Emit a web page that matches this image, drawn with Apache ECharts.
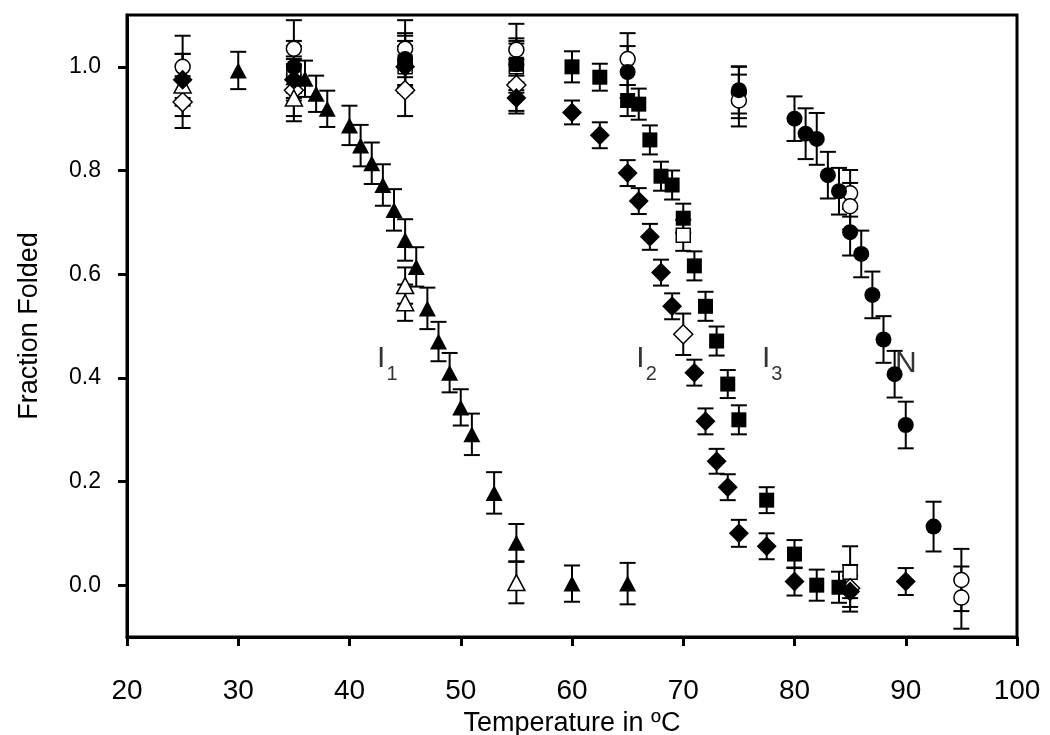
<!DOCTYPE html>
<html><head><meta charset="utf-8">
<script src="https://cdn.jsdelivr.net/npm/echarts@6/dist/echarts.min.js"></script>
<style>html,body{margin:0;padding:0;background:#fff}#c{width:1050px;height:735px}</style>
</head><body><div id="c"></div>
<script>
// ---- tick labels ----
const xTicks = [20, 30, 40, 50, 60, 70, 80, 90, 100];
const yTicks = [0.0, 0.2, 0.4, 0.6, 0.8, 1.0];
const xTitle = 'Temperature in ºC';
const yTitle = 'Fraction Folded';

// ---- data: [temperature, fraction folded, error] ----
const filledTriangles = [[30,0.993,0.036],[35,0.98,0.04],[36,0.977,0.035],[37,0.948,0.035],[38,0.919,0.035],[40,0.887,0.038],[41,0.848,0.04],[42,0.814,0.04],[43,0.772,0.04],[44,0.724,0.04],[45,0.666,0.04],[46,0.614,0.038],[47,0.534,0.04],[48,0.47,0.038],[49,0.41,0.038],[50,0.343,0.035],[51,0.291,0.04],[53,0.178,0.04],[55,0.082,0.036],[60,0.003,0.035],[65,0.003,0.04]];
const openTriangles = [[25,0.965,0.06],[35,0.94,0.045],[45,0.578,0.035],[45,0.545,0.035],[55,0.005,0.04]];
const filledDiamonds = [[25,0.975,0.05],[35,0.975,0.04],[45,1.0,0.04],[55,0.94,0.03],[60,0.912,0.023],[62.5,0.868,0.025],[65,0.795,0.025],[66,0.741,0.025],[67,0.672,0.025],[68,0.603,0.025],[69,0.538,0.025],[71,0.41,0.025],[72,0.316,0.025],[73,0.239,0.024],[74,0.189,0.025],[75,0.1,0.026],[77.5,0.075,0.025],[80,0.007,0.027],[85,-0.012,0.03],[90,0.007,0.026]];
const openDiamonds = [[25,0.932,0.05],[35,0.955,0.05],[45,0.955,0.05],[55,0.965,0.05],[70,0.484,0.04],[85,-0.006,0.045]];
const filledSquares = [[45,1.01,0.05],[55,1.005,0.04],[60,1.0,0.03],[62.5,0.98,0.026],[65,0.935,0.03],[66,0.928,0.03],[67,0.859,0.028],[68,0.789,0.028],[69,0.772,0.028],[70,0.708,0.028],[71,0.616,0.028],[72,0.538,0.028],[73,0.471,0.028],[74,0.388,0.027],[75,0.319,0.028],[77.5,0.164,0.025],[80,0.06,0.027],[82,0.0,0.03],[84,-0.004,0.03]];
const openSquares = [[35,0.99,0.05],[45,1.0,0.05],[55,1.0,0.05],[70,0.675,0.03],[85,0.025,0.05]];
const filledCircles = [[35,1.0,0.05],[45,1.015,0.05],[55,1.005,0.05],[65,0.99,0.05],[75,0.955,0.045],[80,0.9,0.043],[81,0.871,0.049],[82,0.861,0.05],[83,0.791,0.045],[84,0.76,0.045],[85,0.681,0.045],[86,0.639,0.045],[87,0.56,0.045],[88,0.474,0.045],[89,0.407,0.045],[90,0.309,0.045],[92.5,0.113,0.048]];
const openCirclesA = [[25,1.0,0.06],[35,1.035,0.055],[45,1.035,0.055],[55,1.033,0.05],[65,1.015,0.05],[75,0.951,0.05],[85,0.756,0.045],[95,0.01,0.06]];
const openCirclesB = [[75,0.935,0.05],[85,0.731,0.045],[95,-0.024,0.06]];

// ---- annotations ----
const labelT = [43.4, 66.7, 78.0, 90.0];
const labelF = [0.44, 0.44, 0.44, 0.432];
const labelMain = ['I', 'I', 'I', 'N'];
const labelSub = ['1', '2', '3', ''];

const chart = echarts.init(document.getElementById('c'), null, {renderer: 'canvas'});

function errSeries(data) {
  return {
    type: 'custom', silent: true, z: 2, clip: true,
    data: data,
    encode: {x: 0, y: 1},
    renderItem: function (params, api) {
      const x = api.value(0), y = api.value(1), e = api.value(2);
      const t = api.coord([x, y + e]), b = api.coord([x, y - e]);
      const h = 8;
      const st = {stroke: '#000', lineWidth: 2};
      return {type: 'group', children: [
        {type: 'line', shape: {x1: t[0], y1: t[1], x2: b[0], y2: b[1]}, style: st},
        {type: 'line', shape: {x1: t[0] - h, y1: t[1], x2: t[0] + h, y2: t[1]}, style: st},
        {type: 'line', shape: {x1: b[0] - h, y1: b[1], x2: b[0] + h, y2: b[1]}, style: st}
      ]};
    }
  };
}
function markSeries(data, symbol, size, filled) {
  return {
    type: 'scatter', z: 4, silent: true,
    data: data.map(d => [d[0], d[1]]),
    symbol: symbol, symbolSize: size,
    itemStyle: {color: filled ? '#000' : '#fff', borderColor: '#000', borderWidth: filled ? 0 : 1.5, opacity: 1}
  };
}

const groups = [
  [openCirclesA, 'circle', 15, false],
  [openCirclesB, 'circle', 15, false],
  [openSquares, 'rect', 14, false],
  [openDiamonds, 'diamond', [19, 19], false],
  [openTriangles, 'triangle', [17, 16], false],
  [filledTriangles, 'triangle', [17, 16], true],
  [filledDiamonds, 'diamond', [20, 20], true],
  [filledSquares, 'rect', 15, true],
  [filledCircles, 'circle', 16, true]
];
const series = [];
groups.forEach(g => series.push(errSeries(g[0])));
groups.forEach(g => series.push(markSeries(g[0], g[1], g[2], g[3])));

series.push({
  type: 'scatter', silent: true, z: 10, zlevel: 1,
  symbolSize: 0,
  data: labelT.map((t, i) => ({value: [t, labelF[i]], main: labelMain[i], sub: labelSub[i]})),
  label: {
    show: true, position: 'inside',
    formatter: p => '{a|' + p.data.main + '}' + (p.data.sub ? '{b|' + p.data.sub + '}' : ''),
    rich: {
      a: {fontFamily: 'Liberation Sans, Arial', fontSize: 30, color: '#000', lineHeight: 34, verticalAlign: 'bottom'},
      b: {fontFamily: 'Liberation Sans, Arial', fontSize: 20, color: '#000', lineHeight: 34, verticalAlign: 'bottom', padding: [0, 0, -10, 1]}
    }
  }
});

chart.setOption({
  animation: false,
  backgroundColor: '#fff',
  grid: {left: 127, right: 33, top: 15, bottom: 98, show: true, borderColor: '#000', borderWidth: 3,
    backgroundColor: 'transparent', containLabel: false, outerBoundsMode: 'none'},
  xAxis: {
    type: 'value', min: 20, max: 100, interval: 10,
    name: xTitle, nameLocation: 'middle', nameGap: 68,
    nameTextStyle: {fontFamily: 'Liberation Sans, Arial', fontSize: 27, color: '#000'},
    axisLine: {show: true, onZero: false, lineStyle: {color: '#000', width: 3}},
    axisTick: {show: true, inside: false, length: 9, lineStyle: {color: '#000', width: 3}},
    axisLabel: {show: true, margin: 40, fontFamily: 'Liberation Sans, Arial', fontSize: 28, color: '#000',
      formatter: v => String(v)},
    splitLine: {show: false}
  },
  yAxis: {
    type: 'value', min: -0.1, max: 1.1,
    name: yTitle, nameLocation: 'middle', nameGap: 84, nameRotate: 90,
    nameTextStyle: {fontFamily: 'Liberation Sans, Arial', fontSize: 27, color: '#000'},
    axisLine: {show: true, onZero: false, lineStyle: {color: '#000', width: 3}},
    axisTick: {show: true, inside: false, length: 9, lineStyle: {color: '#000', width: 3}, customValues: yTicks},
    axisLabel: {show: true, margin: 26, fontFamily: 'Liberation Sans, Arial', fontSize: 23, color: '#000',
      customValues: yTicks, formatter: v => Number(v).toFixed(1)},
    splitLine: {show: false}
  },
  series: series
});
</script></body></html>
